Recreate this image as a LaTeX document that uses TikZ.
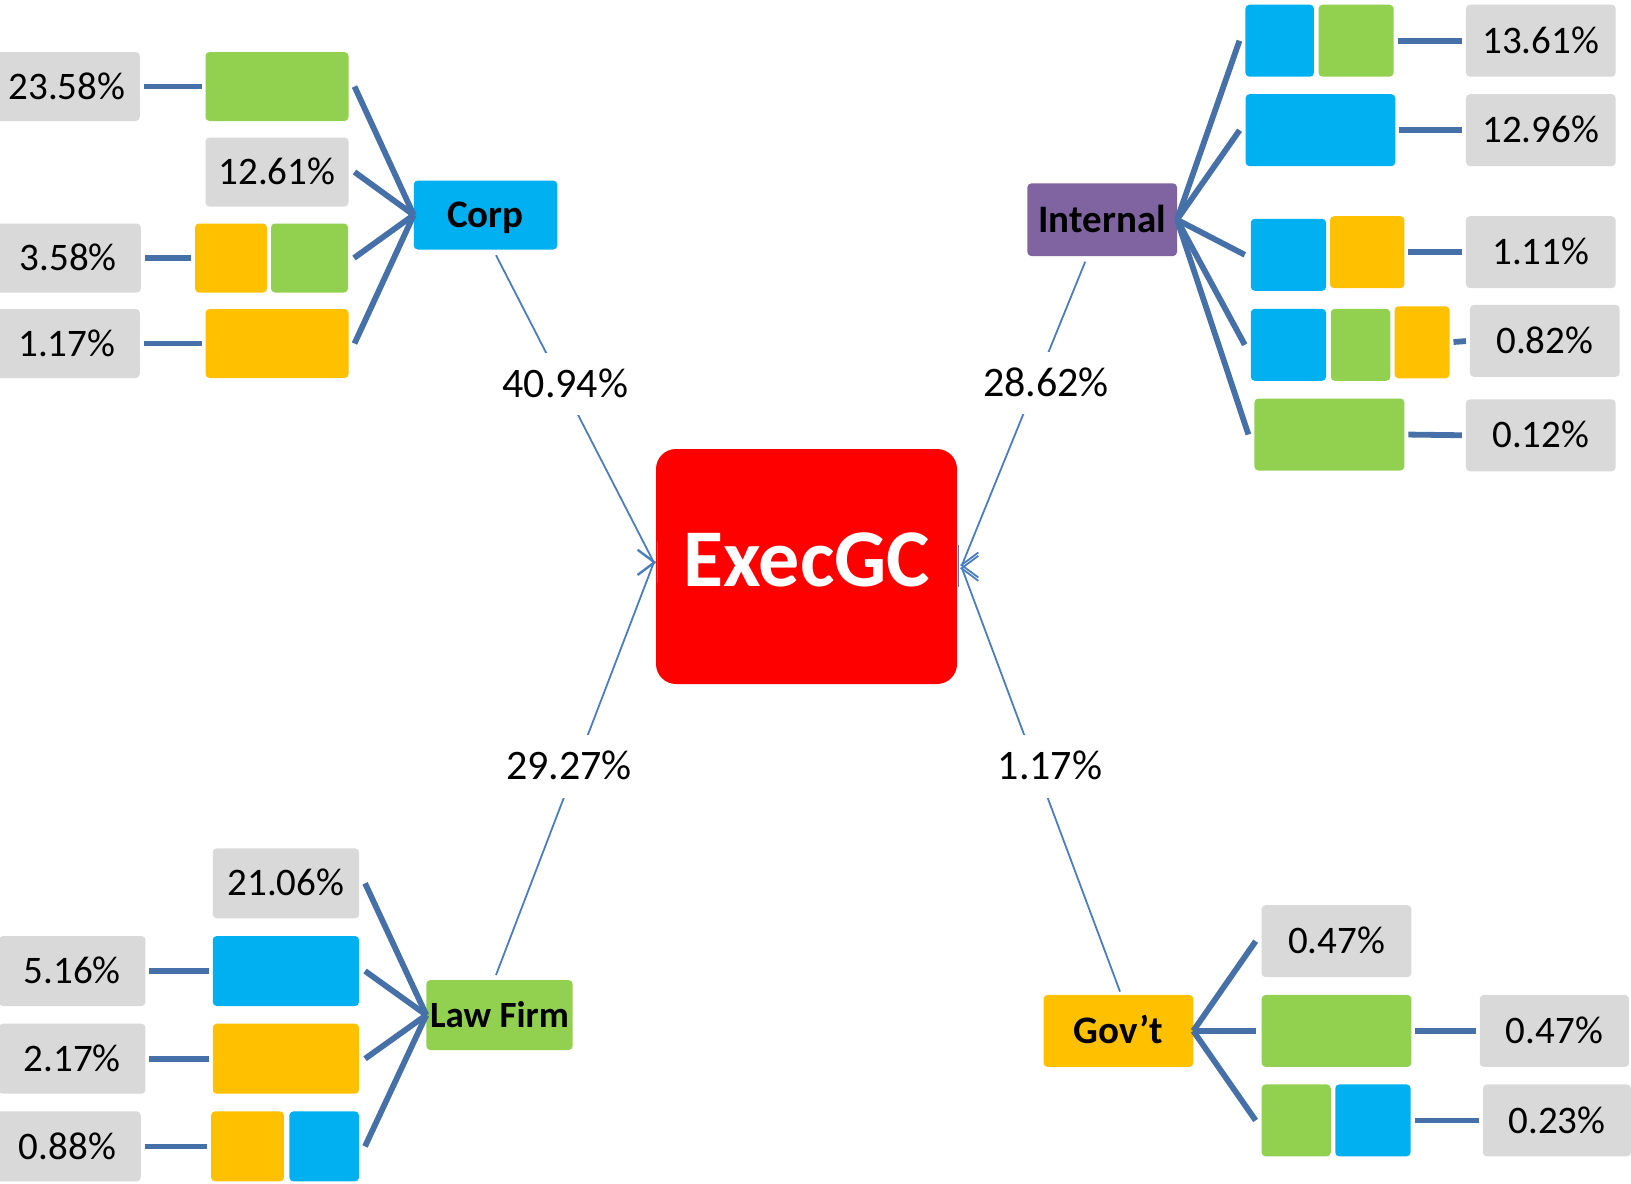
\documentclass[tikz,border=0pt]{standalone}
\usepackage{fontspec}
\setmainfont{Carlito}
\usetikzlibrary{calc,arrows.meta}
\definecolor{cgreen}{HTML}{92D050}
\definecolor{cblue}{HTML}{00B0F0}
\definecolor{cyellow}{HTML}{FFC000}
\definecolor{lgray}{HTML}{D9D9D9}
\definecolor{cpurple}{HTML}{8064A2}
\definecolor{cred}{HTML}{FF0000}
\definecolor{fanblue}{HTML}{4570A8}
\definecolor{thinblue}{HTML}{4A7EC0}
\tikzset{
 sq/.style={rectangle, rounded corners=2pt, inner sep=0pt, outer sep=0pt},
 pct/.style={sq, fill=lgray, font=\fontsize{19.5}{23}\selectfont, text height=12.6pt, text depth=0pt},
 cat/.style={sq, font=\bfseries\fontsize{19.5}{23}\selectfont, text height=12.6pt, text depth=0pt},
 gb/.style={sq, fill=cgreen},
 bb/.style={sq, fill=cblue},
 yb/.style={sq, fill=cyellow},
 fan/.style={draw=fanblue, line width=2.9pt},
 hl/.style={draw=fanblue, line width=2.9pt, shorten <=2pt, shorten >=2pt},
 conn/.style={draw=thinblue, line width=0.9pt, -{Straight Barb[length=8.4pt,width=12.5pt]}},
 tickline/.style={draw=thinblue, line width=0.9pt},
 mid/.style={fill=white, inner xsep=1pt, inner ysep=8.8pt, font=\fontsize{21}{25}\selectfont, text height=13.5pt, text depth=0pt},
}
\begin{document}
\begin{tikzpicture}[x=0.5pt,y=-0.5pt]
\clip (0,0) rectangle (1631,1183);
\fill[white] (0,0) rectangle (1631,1183);

% ---------- centre ----------
\node[sq, rounded corners=10pt, fill=cred, minimum width=150.5pt, minimum height=117.5pt,
      font=\bfseries\fontsize{41}{48}\selectfont, text=white, text height=26.4pt, text depth=6.5pt]
      (execgc) at (806.5,566.5) {ExecGC};

% ---------- Corp ----------
\begin{scope}[every node/.append style={minimum height=34.5pt}]
\node[pct, minimum width=72.85pt] (c1l) at (66.9,86.5) {23.58\%};
\node[gb, minimum width=71.5pt] (c1a) at (277,86.5) {};
\node[pct, minimum width=71.5pt] (c2l) at (277,172) {12.61\%};
\node[pct, minimum width=72.65pt] (c3l) at (68.2,258) {3.58\%};
\node[yb, minimum width=36pt] (c3a) at (231,258) {};
\node[gb, minimum width=38.5pt] (c3b) at (309.5,258) {};
\node[pct, minimum width=72.85pt] (c4l) at (66.9,343.5) {1.17\%};
\node[yb, minimum width=71.5pt] (c4a) at (277,343.5) {};
\node[cat, fill=cblue, minimum width=71.75pt] (corp) at (485.5,215) {Corp};
\end{scope}

% ---------- Internal ----------
\begin{scope}[every node/.append style={minimum height=36pt}]
\node[bb, minimum width=34.25pt] (i1a) at (1279.7,40.7) {};
\node[gb, minimum width=37.5pt] (i1b) at (1356,40.7) {};
\node[pct, minimum width=74.85pt] (i1l) at (1540.8,40.7) {13.61\%};
\node[bb, minimum width=74.85pt] (i2a) at (1320.4,130.2) {};
\node[pct, minimum width=74.85pt] (i2l) at (1540.8,130.2) {12.96\%};
\node[bb, minimum width=37.65pt] (i3a) at (1288.4,254.8) {};
\node[yb, minimum width=37.2pt] (i3b) at (1367.2,252.2) {};
\node[pct, minimum width=74.85pt] (i3l) at (1540.8,252.2) {1.11\%};
\node[bb, minimum width=37.65pt] (i4a) at (1288.4,344.8) {};
\node[gb, minimum width=29.75pt] (i4b) at (1360.5,344.8) {};
\node[yb, minimum width=27.5pt] (i4c) at (1422,342.3) {};
\node[pct, minimum width=74.85pt] (i4l) at (1544.8,340.8) {0.82\%};
\node[gb, minimum width=75pt] (i5a) at (1329.4,434.5) {};
\node[pct, minimum width=74.85pt] (i5l) at (1540.8,435.3) {0.12\%};
\node[cat, fill=cpurple, minimum width=74.8pt, minimum height=36.35pt] (internal) at (1102.2,219.7) {Internal};
\end{scope}

% ---------- Law Firm ----------
\begin{scope}[every node/.append style={minimum height=35pt}]
\node[pct, minimum width=73.15pt] (l1l) at (285.9,883.3) {21.06\%};
\node[pct, minimum width=73.25pt] (l2l) at (72.2,971) {5.16\%};
\node[bb, minimum width=73.15pt] (l2a) at (285.9,971) {};
\node[pct, minimum width=73.25pt] (l3l) at (72.2,1058.7) {2.17\%};
\node[yb, minimum width=73.15pt] (l3a) at (285.9,1058.7) {};
\node[pct, minimum width=73.25pt] (l4l) at (67.5,1146.4) {0.88\%};
\node[yb, minimum width=36.4pt] (l4a) at (247.5,1146.4) {};
\node[bb, minimum width=34.8pt] (l4b) at (324.2,1146.4) {};
\node[cat, fill=cgreen, minimum width=73.15pt, font=\bfseries\fontsize{18.5}{22}\selectfont] (lawfirm) at (499.5,1015) {Law Firm};
\end{scope}

% ---------- Gov't ----------
\begin{scope}[every node/.append style={minimum height=36pt}]
\node[cat, fill=cyellow, minimum width=74.85pt] (govt) at (1118.4,1030.9) {Gov’t};
\node[pct, minimum width=74.85pt] (g1l) at (1336.5,941.2) {0.47\%};
\node[gb, minimum width=74.85pt] (g2a) at (1336.5,1030.9) {};
\node[pct, minimum width=74.65pt] (g2l) at (1554.4,1030.9) {0.47\%};
\node[gb, minimum width=34.6pt] (g3a) at (1296.2,1120.4) {};
\node[bb, minimum width=37.65pt] (g3b) at (1372.9,1120.4) {};
\node[pct, minimum width=74pt] (g3l) at (1556.9,1120.4) {0.23\%};
\end{scope}

% ---------- fans ----------
\foreach \t in {c1a,c2l,c3b,c4a} \draw[fan] (corp.west) -- ([xshift=3pt]\t.east);
\foreach \t in {l1l,l2a,l3a,l4b} \draw[fan] (lawfirm.west) -- ([xshift=3pt]\t.east);
\foreach \t in {i1a,i2a,i3a,i4a,i5a} \draw[fan] (internal.east) -- ([xshift=-3pt]\t.west);
\foreach \t in {g1l,g2a,g3a} \draw[fan] (govt.east) -- ([xshift=-3pt]\t.west);

% ---------- horizontal links ----------
\draw[hl] (c1l.east) -- (c1a.west);
\draw[hl] (c3l.east) -- (c3a.west);
\draw[hl] (c4l.east) -- (c4a.west);
\draw[hl] (l2l.east) -- (l2a.west);
\draw[hl] (l3l.east) -- (l3a.west);
\draw[hl] (l4l.east) -- (l4a.west);
\draw[hl] (i1b.east) -- (i1l.west);
\draw[hl] (i2a.east) -- (i2l.west);
\draw[hl] (i3b.east) -- (i3l.west);
\draw[hl] (i4c.east) -- (i4l.west);
\draw[hl] (i5a.east) -- (i5l.west);
\draw[hl] (g2a.east) -- (g2l.west);
\draw[hl] (g3b.east) -- (g3l.west);

% ---------- arrows to centre ----------
\draw[conn] ($(corp.south)+(10.5,5.7)$) -- node[mid, pos=0.419, xshift=1.6pt] (m1) {40.94\%}
      ($(execgc.west)+(-2,-3.8)$) -- ($(execgc.west)+(0,-3.8)$);
\draw[conn] ($(internal.south)+(-17,5.7)$) -- node[mid, pos=0.4, xshift=5pt] (m2) {28.62\%}
      ($(execgc.east)+(5,-1.5)$) -- ($(execgc.east)+(3,-1.5)$);
\draw[conn] ($(lawfirm.north)+(-3.5,-5)$) -- node[mid, pos=0.505, xshift=-3.4pt] (m3) {29.27\%}
      ($(execgc.west)+(-2,-4.5)$) -- ($(execgc.west)+(0,-4.5)$);
\draw[conn] ($(govt.north)+(1.6,-3.3)$) -- node[mid, pos=0.532, xshift=7pt] (m4) {1.17\%}
      ($(execgc.east)+(5,1.8)$) -- ($(execgc.east)+(3,1.8)$);
\draw[tickline] ($(execgc.west)+(1.5,-24.8)$) -- ($(execgc.west)+(1.5,16.8)$);
\draw[tickline] ($(execgc.east)+(1.5,-21.5)$) -- ($(execgc.east)+(1.5,20.5)$);
\end{tikzpicture}
\end{document}
